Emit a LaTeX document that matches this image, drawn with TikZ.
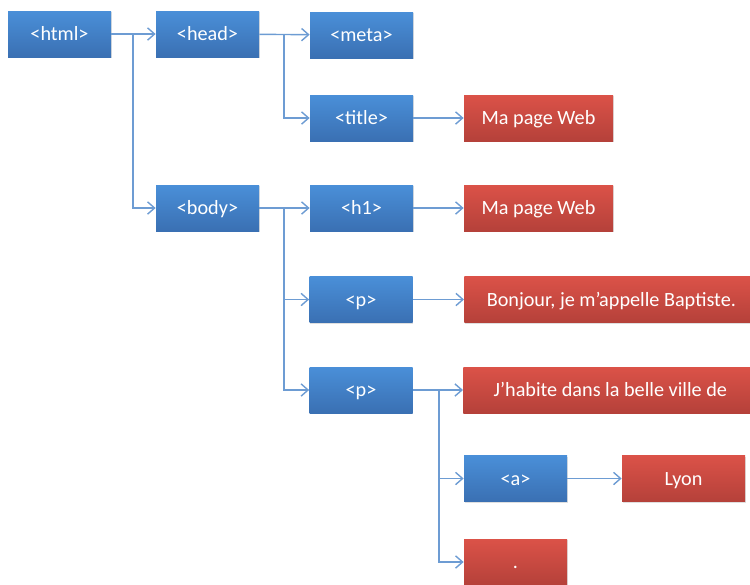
\documentclass[tikz,border=0pt]{standalone}
\usepackage{fontspec}
\setmainfont{Carlito}
\usetikzlibrary{arrows.meta, shadows}

\definecolor{tagtop}{HTML}{4A8FD8}
\definecolor{tagbot}{HTML}{3A70B3}
\definecolor{txttop}{HTML}{DB5248}
\definecolor{txtbot}{HTML}{B5413A}
\definecolor{linkcol}{HTML}{6D9CD3}

\tikzset{
  box/.style={minimum height=0.92cm, inner sep=0pt, text=white,
    font=\fontsize{11.5}{14}\selectfont, text height=7.5pt, text depth=0pt,
    drop shadow={opacity=0.25, shadow xshift=0.4pt, shadow yshift=-0.8pt}},
  tag/.style={box, minimum width=2.06cm, top color=tagtop, bottom color=tagbot},
  txt/.style={box, minimum width=2.98cm, top color=txttop, bottom color=txtbot},
  wide/.style={txt, minimum width=5.88cm},
  link/.style={draw=linkcol, line width=0.8pt, -{Straight Barb[length=4pt, width=7pt]}},
}

\begin{document}
\begin{tikzpicture}
    \clip (0,0) rectangle (15,-11.68);
    % tags
    \node[tag] (html) at (1.19,-0.68) {<html>};
    \node[tag] (head) at (4.15,-0.68) {<head>};
    \node[tag] (meta) at (7.23,-0.70) {<meta>};
    \node[tag] (title) at (7.23,-2.36) {<title>};
    \node[tag] (body) at (4.15,-4.16) {<body>};
    \node[tag] (h1) at (7.23,-4.16) {<h1>};
    \node[tag] (p1) at (7.22,-5.99) {<p>};
    \node[tag] (p2) at (7.22,-7.80) {<p>};
    \node[tag] (a) at (10.31,-9.57) {<a>};
    % text content
    \node[txt] (titletxt) at (10.77,-2.36) {Ma page Web};
    \node[txt] (h1txt) at (10.77,-4.16) {Ma page Web};
    \node[wide, anchor=west] (p1txt) at (9.28,-5.99) {Bonjour, je m’appelle Baptiste.};
    \node[wide, anchor=west] (p2txt) at (9.26,-7.80) {J’habite dans la belle ville de};
    \node[txt, minimum width=2.46cm] (lyon) at (13.67,-9.57) {Lyon};
    \node[tag, top color=txttop, bottom color=txtbot] (dot) at (10.31,-11.24) {.};
    % branch points
    \coordinate (jhtml) at (2.66,-0.68);
    \coordinate (jhead) at (5.68,-0.68);
    \coordinate (jbody) at (5.68,-4.16);
    \coordinate (jp) at (8.78,-7.80);
    % connectors
    \draw[link] (html) -- (head);
    \draw[link] (jhtml) |- (body);
    \draw[link] (head) -- (meta);
    \draw[link] (jhead) |- (title);
    \draw[link] (title) -- (titletxt);
    \draw[link] (body) -- (h1);
    \draw[link] (jbody) |- (p1);
    \draw[link] (jbody) |- (p2);
    \draw[link] (h1) -- (h1txt);
    \draw[link] (p1) -- (p1txt);
    \draw[link] (p2) -- (p2txt);
    \draw[link] (jp) |- (a);
    \draw[link] (jp) |- (dot);
    \draw[link] (a) -- (lyon);
\end{tikzpicture}
\end{document}
